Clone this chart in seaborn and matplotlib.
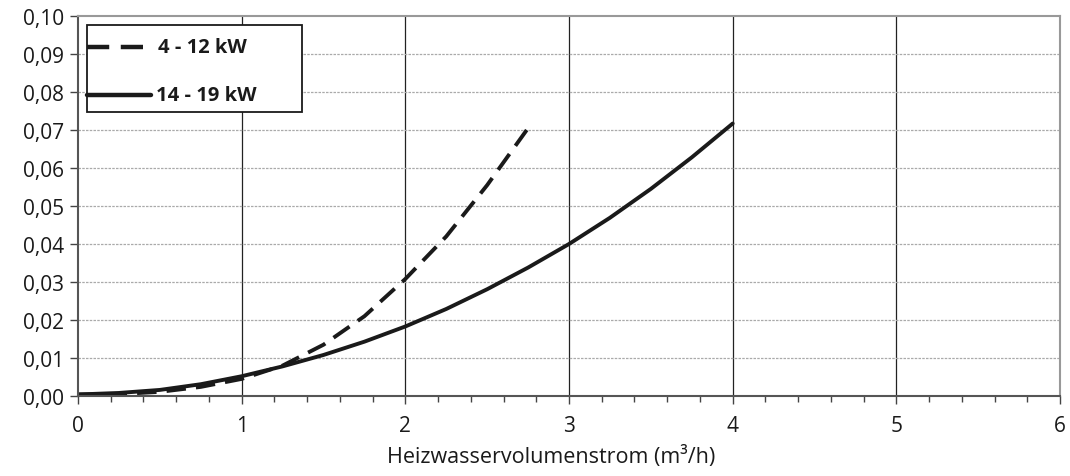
import pandas as pd
import seaborn as sns
import matplotlib.pyplot as plt
from matplotlib.ticker import MultipleLocator, FuncFormatter
from matplotlib.patches import Rectangle

# 4 - 12 kW (gestrichelt)
xSmall = [0.0, 0.25, 0.5, 0.75, 1.0, 1.25, 1.5, 1.75, 2.0, 2.25, 2.5, 2.75]
ySmall = [0.0004, 0.0005, 0.0011, 0.0024, 0.0045, 0.0080, 0.0135, 0.0210, 0.0308, 0.0420, 0.0555, 0.0705]

# 14 - 19 kW (durchgezogen)
xLarge = [0.0, 0.25, 0.5, 0.75, 1.0, 1.25, 1.5, 1.75, 2.0, 2.25, 2.5, 2.75, 3.0, 3.25, 3.5, 3.75, 4.0]
yLarge = [0.0004, 0.0008, 0.0016, 0.0031, 0.0052, 0.0078, 0.0108, 0.0143, 0.0183,
          0.0229, 0.0281, 0.0338, 0.0400, 0.0469, 0.0545, 0.0628, 0.0717]

labels = ['4 - 12 kW', '14 - 19 kW']

df = pd.concat([
    pd.DataFrame({'x': xSmall, 'y': ySmall, 'Serie': labels[0]}),
    pd.DataFrame({'x': xLarge, 'y': yLarge, 'Serie': labels[1]}),
])

sns.set_style('white')
plt.rcParams['font.family'] = ['Open Sans', 'DejaVu Sans']

fig = plt.figure(figsize=(10.7, 4.77), dpi=100)
ax = fig.add_axes([0.0729, 0.1677, 0.9178, 0.7967])

dashPattern = (5, 2.6)
lineColor = '#1a1a1a'

sns.lineplot(data=df, x='x', y='y', hue='Serie', style='Serie',
             palette=[lineColor, lineColor],
             dashes={labels[0]: dashPattern, labels[1]: ''},
             linewidth=2.8, sort=False, legend=False, ax=ax)

ax.set_xlim(0, 6)
ax.set_ylim(0, 0.10)
ax.xaxis.set_major_locator(MultipleLocator(1))
ax.xaxis.set_minor_locator(MultipleLocator(0.2))
ax.yaxis.set_major_locator(MultipleLocator(0.01))
ax.yaxis.set_major_formatter(FuncFormatter(lambda v, p: f'{v:.2f}'.replace('.', ',')))

ax.grid(False)
for xv in range(1, 6):
    ax.axvline(xv, color='#222222', linewidth=0.9, zorder=0)
for k in range(1, 10):
    ax.axhline(k * 0.01, color='#aaaaaa', linewidth=0.9, linestyle=(0, (2, 1)), zorder=0)

ax.tick_params(axis='both', which='both', bottom=True, left=True)
ax.tick_params(axis='both', which='major', direction='out', length=6, width=1,
               color='#444444', labelsize=15, labelcolor='#1a1a1a')
ax.tick_params(axis='x', which='minor', direction='out', length=4, width=1, color='#444444')
ax.tick_params(axis='x', which='major', pad=8)
ax.tick_params(axis='y', which='major', pad=4)

for s in ['left', 'bottom']:
    ax.spines[s].set_color('#555555')
    ax.spines[s].set_linewidth(1.5)
for s in ['top', 'right']:
    ax.spines[s].set_color('#999999')
    ax.spines[s].set_linewidth(1.5)

ax.set_xlabel('Heizwasservolumenstrom (m³/h)', fontsize=15.5, color='#1a1a1a', labelpad=2)
ax.xaxis.set_label_coords(0.4817, -0.13)
ax.set_ylabel('')

# Legende (Rahmen mit Linienmustern)
ax.add_patch(Rectangle((0.0092, 0.747), 0.2189, 0.229, transform=ax.transAxes,
                       facecolor='white', edgecolor=lineColor, linewidth=1.3, zorder=5))
ax.plot([0.0092, 0.0713], [0.918, 0.918], transform=ax.transAxes, color=lineColor,
        linewidth=3.2, linestyle=(0, dashPattern), zorder=6)
ax.plot([0.0092, 0.0743], [0.792, 0.792], transform=ax.transAxes, color=lineColor,
        linewidth=3.2, zorder=6)
ax.text(0.0815, 0.918, labels[0], transform=ax.transAxes, fontsize=14.5,
        fontweight='bold', va='center', ha='left', color=lineColor, zorder=7)
ax.text(0.0795, 0.792, labels[1], transform=ax.transAxes, fontsize=14.5,
        fontweight='bold', va='center', ha='left', color=lineColor, zorder=7)

plt.savefig('out.png', dpi=100)
